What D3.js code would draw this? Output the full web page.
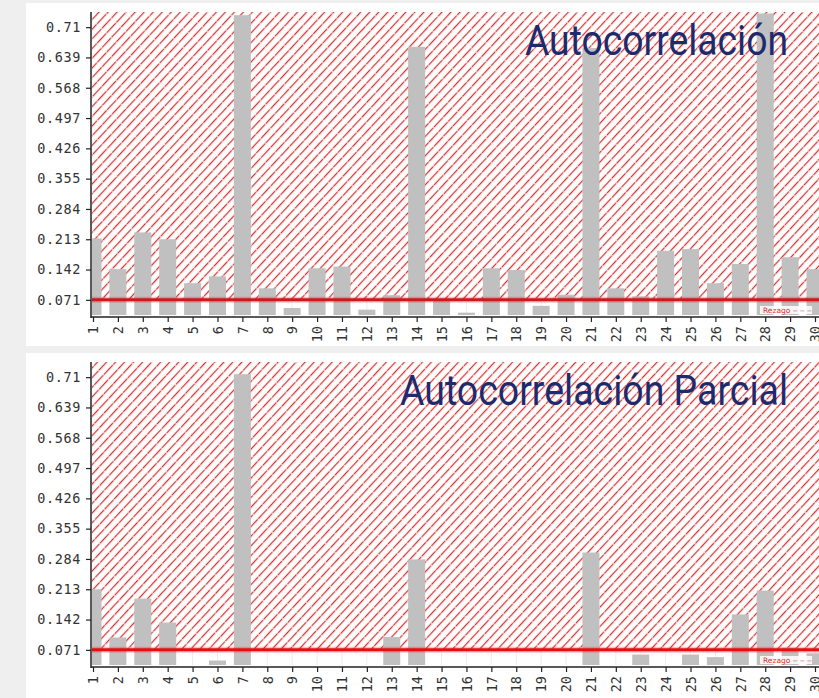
<!DOCTYPE html>
<html>
<head>
<meta charset="utf-8">
<script src="https://cdn.jsdelivr.net/npm/d3@7/dist/d3.min.js"></script>
<style>
  html, body { margin: 0; padding: 0; background: #efefef; }
  svg { display: block; }
</style>
</head>
<body>
<svg id="chart" width="819" height="698"></svg>
<script>
// Lags 1..30
const lags = d3.range(1, 31);

// Autocorrelation (ACF) by lag
const acfValues = [0.215, 0.143, 0.229, 0.213, 0.110, 0.126, 0.738, 0.098, 0.052, 0.145,
                   0.149, 0.048, 0.082, 0.664, 0.072, 0.041, 0.145, 0.141, 0.057, 0.083,
                   0.661, 0.098, 0.079, 0.186, 0.190, 0.110, 0.155, 0.742, 0.171, 0.143];

// Partial autocorrelation (PACF) by lag
const pacfValues = [0.213, 0.100, 0.191, 0.135, 0.030, 0.046, 0.717, 0.030, 0.030, 0.030,
                    0.030, 0.030, 0.101, 0.283, 0.030, 0.030, 0.030, 0.030, 0.030, 0.030,
                    0.299, 0.030, 0.060, 0.030, 0.060, 0.054, 0.154, 0.210, 0.076, 0.063];

// Y tick values and their printed labels
const yTickValues = [0.071, 0.142, 0.213, 0.284, 0.355, 0.426, 0.497, 0.568, 0.639, 0.71];
const yTickLabels = ["0.071", "0.142", "0.213", "0.284", "0.355", "0.426", "0.497", "0.568", "0.639", "0.71"];

// Significance threshold drawn as the red line
const threshold = 0.071;
const yDomain = [0.0355, 0.7455];

const titles = ["Autocorrelación", "Autocorrelación Parcial"];

const svg = d3.select("#chart");
const W = 819;
const plotLeft = 91, plotRight = 819;

const x = d3.scaleLinear().domain([1, 30]).range([93, 815]);
const barW = 17;

// Diagonal red hatch
const defs = svg.append("defs");
const pat = defs.append("pattern")
  .attr("id", "hatch")
  .attr("patternUnits", "userSpaceOnUse")
  .attr("width", 6.6).attr("height", 14)
  .attr("patternTransform", "rotate(43)");
pat.append("rect").attr("width", 6.6).attr("height", 14).attr("fill", "#ffffff");
pat.append("line")
  .attr("x1", 1.5).attr("y1", 0).attr("x2", 1.5).attr("y2", 14)
  .attr("stroke", "#f3c4c4").attr("stroke-width", 1.8);
pat.append("line")
  .attr("x1", 1.5).attr("y1", 0).attr("x2", 1.5).attr("y2", 14)
  .attr("stroke", "#d01818").attr("stroke-width", 0.9)
  .attr("stroke-dasharray", "7 1.2");

const panels = [
  { y0: 4, values: acfValues, title: titles[0], titleX: 525, titleW: 263, lineColor: "#cc1a1a" },
  { y0: 354, values: pacfValues, title: titles[1], titleX: 400, titleW: 388, lineColor: "#e60f0f" }
];

panels.forEach((p, i) => {
  const g = svg.append("g");
  const top = p.y0 + 8, bottom = p.y0 + 311;

  // panel background
  g.append("rect")
    .attr("x", 26).attr("y", p.y0 - 1)
    .attr("width", W - 26).attr("height", i === 0 ? 343 : 698 - (p.y0 - 1))
    .attr("fill", "#ffffff");

  const y = d3.scaleLinear().domain(yDomain).range([bottom, top]).clamp(true);

  const clipId = "clip" + i;
  defs.append("clipPath").attr("id", clipId)
    .append("rect").attr("x", plotLeft + 1).attr("y", top)
    .attr("width", plotRight - plotLeft).attr("height", bottom - top + 1);

  const plot = g.append("g").attr("clip-path", `url(#${clipId})`);

  // faint vertical grid
  plot.selectAll(".vg").data(lags).enter().append("line")
    .attr("x1", d => x(d)).attr("x2", d => x(d))
    .attr("y1", top).attr("y2", bottom)
    .attr("stroke", "#ececec").attr("stroke-width", 1);

  // hatched region above the threshold
  plot.append("rect")
    .attr("x", plotLeft).attr("y", y(yDomain[1]))
    .attr("width", plotRight - plotLeft)
    .attr("height", y(threshold) - y(yDomain[1]))
    .attr("fill", "url(#hatch)");

  // bars
  plot.selectAll(".bar").data(lags).enter().append("rect")
    .attr("x", d => x(d) - barW / 2)
    .attr("y", d => y(p.values[d - 1]))
    .attr("width", barW)
    .attr("height", d => y(yDomain[0]) - y(p.values[d - 1]))
    .attr("fill", "#c0c0c0");

  // threshold line
  plot.append("line")
    .attr("x1", plotLeft).attr("x2", plotRight)
    .attr("y1", y(threshold)).attr("y2", y(threshold))
    .attr("stroke", p.lineColor).attr("stroke-opacity", 0.25).attr("stroke-width", 6);
  plot.append("line")
    .attr("x1", plotLeft).attr("x2", plotRight)
    .attr("y1", y(threshold)).attr("y2", y(threshold))
    .attr("stroke", p.lineColor).attr("stroke-width", 3);

  // small legend near the bottom right
  plot.append("rect")
    .attr("x", 760).attr("y", bottom - 9)
    .attr("width", 52).attr("height", 8)
    .attr("fill", "#ffffff").attr("fill-opacity", 0.85);
  plot.append("text")
    .attr("x", 763).attr("y", bottom - 2.5)
    .attr("font-family", "DejaVu Sans").attr("font-size", 7.5)
    .attr("fill", "#e03030")
    .text("Rezago ‒ ‒ ‒");

  // y axis
  const yAxis = d3.axisLeft(y)
    .tickValues(yTickValues)
    .tickFormat((d, k) => yTickLabels[k])
    .tickSize(5).tickPadding(5);
  const ya = g.append("g").attr("transform", `translate(${plotLeft},0)`).call(yAxis);
  ya.select(".domain").attr("stroke", "#222").attr("stroke-width", 1.5)
    .attr("d", `M0,${top}V${bottom + 3}`);
  ya.selectAll(".tick line").attr("stroke", "#222").attr("stroke-width", 1.2);
  ya.selectAll(".tick text")
    .attr("font-family", "DejaVu Sans Mono").attr("font-size", 13.5)
    .attr("letter-spacing", 0.6)
    .attr("fill", "#333");

  // x axis
  const xAxis = d3.axisBottom(x).tickValues(lags).tickFormat(d3.format("d"))
    .tickSize(5).tickPadding(4);
  const xa = g.append("g").attr("transform", `translate(0,${bottom + 2})`).call(xAxis);
  xa.select(".domain").attr("stroke", "#222").attr("stroke-width", 1.5)
    .attr("d", `M${plotLeft},0H${plotRight}`);
  xa.selectAll(".tick line").attr("stroke", "#222").attr("stroke-width", 1.2);
  xa.selectAll(".tick text")
    .attr("font-family", "DejaVu Sans Mono").attr("font-size", 13.5)
    .attr("fill", "#333")
    .attr("text-anchor", "end")
    .attr("transform", "rotate(-90)")
    .attr("x", -9).attr("y", 0).attr("dy", "0.35em");

  // panel title
  g.append("text")
    .attr("x", p.titleX).attr("y", p.y0 + 51)
    .attr("font-family", "Roboto").attr("font-size", 42)
    .attr("fill", "#1e2a6e")
    .attr("textLength", p.titleW).attr("lengthAdjust", "spacingAndGlyphs")
    .text(p.title);
});
</script>
</body>
</html>
